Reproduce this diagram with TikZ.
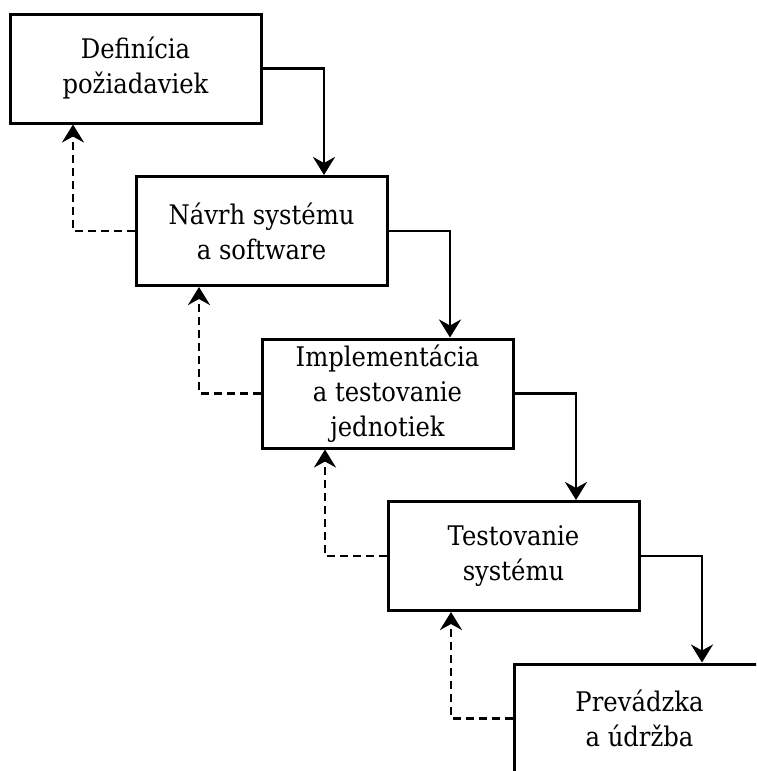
\documentclass[tikz,border=0pt]{standalone}
\usepackage{fontspec}
\setmainfont{DejaVu Serif}[FakeStretch=0.9]
\usetikzlibrary{arrows.meta}
\begin{document}
\begin{tikzpicture}[x=1pt, y=-1pt,
  stage/.style={draw, line width=3pt, rectangle, minimum width=251pt, minimum height=109pt,
    inner sep=0pt, align=center, font=\fontsize{27}{35}\selectfont},
  flow/.style={line width=2.8pt, -{Stealth[length=18pt, width=22pt, inset=6pt]}},
  back/.style={flow, dash pattern=on 8pt off 5pt}]
  \useasboundingbox (0,0) rectangle (756,771);
  \clip (0,0) rectangle (756,771);
  % five phases, stepping down to the right
  \node[stage] (s1) at (135.5, 68.5) {Definícia\\požiadaviek};
  \node[stage] (s2) at (261.5, 231) {Návrh systému\\a software};
  \node[stage] (s3) at (387.5, 393.5) {Implementácia\\a testovanie\\jednotiek};
  \node[stage] (s4) at (513.5, 556) {Testovanie\\systému};
  \node[stage] (s5) at (639.5, 718.5) {Prevádzka\\a údržba};
  % forward flow
  \draw[flow] (s1.east) -| ([xshift=62.5pt]s2.north);
  \draw[flow] (s2.east) -| ([xshift=62.5pt]s3.north);
  \draw[flow] (s3.east) -| ([xshift=62.5pt]s4.north);
  \draw[flow] (s4.east) -| ([xshift=62.5pt]s5.north);
  % feedback to the previous phase
  \draw[back] (s2.west) -| ([xshift=-62.5pt]s1.south);
  \draw[back] (s3.west) -| ([xshift=-62.5pt]s2.south);
  \draw[back] (s4.west) -| ([xshift=-62.5pt]s3.south);
  \draw[back] (s5.west) -| ([xshift=-62.5pt]s4.south);
\end{tikzpicture}
\end{document}
